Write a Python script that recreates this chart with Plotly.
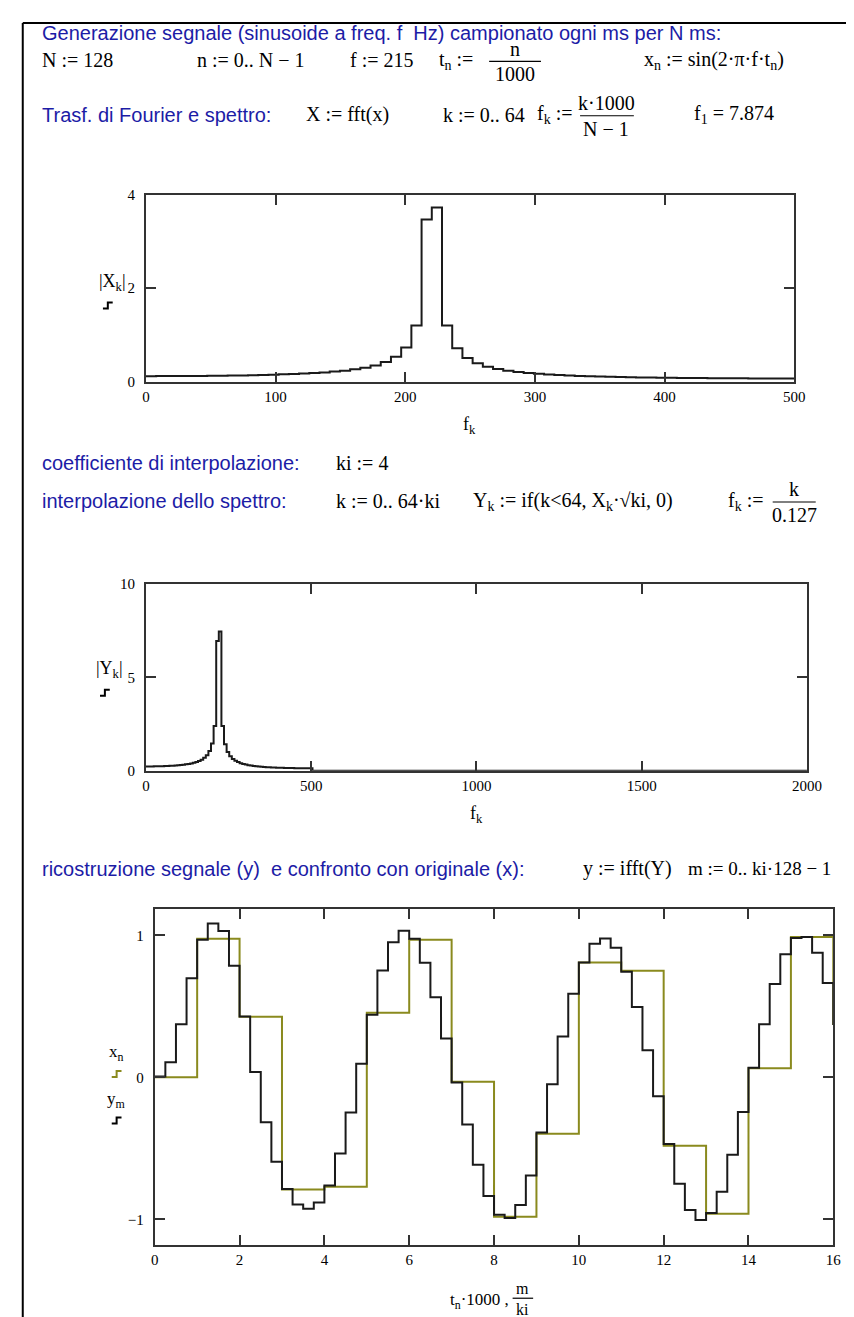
import plotly.graph_objects as go

W, H = 854, 1317

# ---------------- data ----------------
N = 128            # samples
ki = 4             # interpolation coefficient
k_idx = list(range(65))            # k = 0..64
# |X_k|  (spectrum of the sampled sinusoid)
X_mag = [0.115, 0.116, 0.116, 0.117, 0.118, 0.120, 0.122, 0.124, 0.127, 0.131,
         0.135, 0.140, 0.146, 0.153, 0.161, 0.170, 0.181, 0.195, 0.212, 0.233,
         0.261, 0.296, 0.345, 0.417, 0.529, 0.731, 1.199, 3.472, 3.729, 1.200,
         0.711, 0.504, 0.389, 0.317, 0.267, 0.231, 0.203, 0.181, 0.164, 0.150,
         0.138, 0.128, 0.119, 0.112, 0.106, 0.100, 0.095, 0.091, 0.087, 0.084,
         0.081, 0.079, 0.076, 0.074, 0.073, 0.071, 0.070, 0.069, 0.068, 0.067,
         0.066, 0.066, 0.066, 0.065, 0.065]
# |Y_k| (interpolated spectrum), k = 0..63 nonzero, k = 64..256 zero
Y_mag_low = [0.231, 0.231, 0.232, 0.234, 0.236, 0.240, 0.244, 0.249, 0.255, 0.262,
             0.270, 0.280, 0.291, 0.305, 0.321, 0.340, 0.363, 0.391, 0.424, 0.467,
             0.521, 0.592, 0.691, 0.833, 1.057, 1.461, 2.398, 6.944, 7.458, 2.400,
             1.422, 1.007, 0.778, 0.633, 0.534, 0.461, 0.406, 0.362, 0.328, 0.299,
             0.275, 0.256, 0.239, 0.224, 0.211, 0.200, 0.191, 0.182, 0.175, 0.168,
             0.162, 0.157, 0.153, 0.149, 0.145, 0.142, 0.140, 0.137, 0.135, 0.134,
             0.133, 0.132, 0.131, 0.131]
Y_mag_high = [0.0] * 193
Y_mag = Y_mag_low + Y_mag_high
kY_idx = list(range(len(Y_mag)))   # k = 0..256

# original samples x_n, n = 0..16
x_n = [0.000, 0.976, 0.426, -0.790, -0.771, 0.454, 0.969, -0.031, -0.982,
       -0.397, 0.809, 0.750, -0.482, -0.960, 0.063, 0.988, 0.368]
n_idx = list(range(len(x_n)))
# reconstructed y_m, m = 0..64
y_m = [0.005, 0.106, 0.373, 0.697, 0.968, 1.083, 1.030, 0.785, 0.428, 0.037,
       -0.317, -0.595, -0.787, -0.896, -0.926, -0.882, -0.762, -0.537, -0.248, 0.095,
       0.440, 0.752, 0.951, 1.032, 0.975, 0.806, 0.563, 0.273, -0.037, -0.333,
       -0.616, -0.836, -0.968, -0.991, -0.900, -0.692, -0.389, -0.049, 0.287, 0.588,
       0.808, 0.940, 0.977, 0.912, 0.743, 0.495, 0.190, -0.134, -0.470, -0.750,
       -0.935, -1.005, -0.956, -0.806, -0.546, -0.245, 0.067, 0.373, 0.657, 0.866,
       0.981, 0.988, 0.877, 0.664, 0.368]
m_idx = list(range(len(y_m)))

f1 = [k * 1000 / (N - 1) for k in k_idx]
f2 = [k / 0.127 for k in kY_idx]
t_n = [n for n in n_idx]
t_m = [m / ki for m in m_idx]

# ---------------- style ----------------
BLUE = "#1c1ca6"
OLIVE = "#8a8a1e"
INK = "#1a1a1a"
SERIF = "Liberation Serif"
SANS = "Liberation Sans"
TS = 20   # blue text size
MS = 20   # math size

def px(x):
    return x / W

def py(y):
    return 1 - y / H

fig = go.Figure()
fig.add_trace(go.Scatter(x=f1, y=X_mag, mode="lines", line=dict(shape="hv", color=INK, width=2),
                         xaxis="x", yaxis="y", showlegend=False))
fig.add_trace(go.Scatter(x=f2, y=Y_mag, mode="lines", line=dict(shape="hv", color=INK, width=2),
                         xaxis="x2", yaxis="y2", showlegend=False))
fig.add_trace(go.Scatter(x=t_n, y=x_n, mode="lines", line=dict(shape="hv", color=OLIVE, width=2),
                         xaxis="x3", yaxis="y3", showlegend=False))
fig.add_trace(go.Scatter(x=t_m, y=y_m, mode="lines", line=dict(shape="hv", color=INK, width=2),
                         xaxis="x3", yaxis="y3", showlegend=False))

ax = dict(showline=True, linewidth=2, linecolor="#333333", mirror="ticks", ticks="inside",
          ticklen=10, tickwidth=2, tickcolor="#333333", showgrid=False, zeroline=False,
          tickfont=dict(family=SERIF, size=15, color="black"), fixedrange=True)
ayx = dict(ax, ticklabelstandoff=6)

fig.update_layout(
    width=W, height=H, margin=dict(l=0, r=0, t=0, b=0),
    paper_bgcolor="white", plot_bgcolor="white",
    xaxis=dict(ax, domain=[px(137), px(800)], range=[0, 500], tickvals=[0, 100, 200, 300, 400, 500], anchor="y"),
    yaxis=dict(ayx, domain=[py(370), py(181)], range=[0, 4], tickvals=[0, 2, 4], anchor="x"),
    xaxis2=dict(ax, domain=[px(137), px(813)], range=[0, 2000], tickvals=[0, 500, 1000, 1500, 2000], anchor="y2"),
    yaxis2=dict(ayx, domain=[py(764), py(575)], range=[0, 10], tickvals=[0, 5, 10], anchor="x2"),
    xaxis3=dict(ax, domain=[px(146), px(840)], range=[0, 16], tickvals=list(range(0, 17, 2)), anchor="y3"),
    yaxis3=dict(ayx, domain=[py(1244), py(904)], range=[-1.18, 1.185], tickvals=[-1, 0, 1], anchor="x3"),
)

ann = []
def txt(x, y, s, size=MS, fam=SERIF, color="black", anchor="left"):
    ann.append(dict(x=px(x), y=py(y), xref="paper", yref="paper", text=s, showarrow=False,
                    xanchor=anchor, yanchor="middle", borderpad=0,
                    font=dict(family=fam, size=size, color=color)))

shapes = []
def hline(x0, x1, y, w=1.2, color="black"):
    shapes.append(dict(type="line", xref="paper", yref="paper", x0=px(x0), x1=px(x1), y0=py(y), y1=py(y),
                       line=dict(color=color, width=w)))

def glyph(x0, y0, color="black"):
    # small step-trace legend symbol
    path = "M {} {} L {} {} L {} {} L {} {}".format(px(x0), py(y0), px(x0 + 5), py(y0),
                                                    px(x0 + 5), py(y0 - 6), px(x0 + 10), py(y0 - 6))
    shapes.append(dict(type="path", xref="paper", yref="paper", path=path, line=dict(color=color, width=2)))

# page frame
shapes.append(dict(type="line", xref="paper", yref="paper", x0=px(11), x1=px(854), y0=py(7), y1=py(7),
                   line=dict(color="black", width=2)))
shapes.append(dict(type="line", xref="paper", yref="paper", x0=px(11), x1=px(11), y0=py(7), y1=py(1317),
                   line=dict(color="black", width=2)))

# line 1
txt(30, 17, "Generazione segnale (sinusoide a freq. f  Hz) campionato ogni ms per N ms:", TS, SANS, BLUE)
# line 2
txt(30, 45, "N := 128")
txt(188, 45, "n := 0.. N − 1")
txt(345, 45, "f := 215")
txt(436, 45, "t<sub>n</sub> :=")
txt(514, 33, "n", anchor="center")
hline(488, 541, 46)
txt(514, 59, "1000", anchor="center")
txt(645, 45, "x<sub>n</sub> := sin(2·π·f·t<sub>n</sub>)")
# line 3
txt(30, 100, "Trasf. di Fourier e spettro:", TS, SANS, BLUE)
txt(300, 100, "X := fft(x)")
txt(440, 100, "k := 0.. 64")
txt(536, 100, "f<sub>k</sub> :=")
txt(608, 88, "k·1000", anchor="center")
hline(581, 636, 101)
txt(608, 114, "N − 1", anchor="center")
txt(697, 100, "f<sub>1</sub> = 7.874")

# plot 1 labels
txt(103, 270, "|X<sub>k</sub>|", 18, anchor="center")
glyph(93, 296)
txt(468, 415, "f<sub>k</sub>", 18, anchor="center")

# interpolation text
txt(30, 452, "coefficiente di interpolazione:", TS, SANS, BLUE)
txt(330, 452, "ki := 4")
txt(30, 491, "interpolazione dello spettro:", TS, SANS, BLUE)
txt(330, 491, "k := 0.. 64·ki")
txt(470, 491, "Y<sub>k</sub> := if(k&lt;64, X<sub>k</sub>·√ki, 0)")
txt(731, 491, "f<sub>k</sub> :=")
txt(800, 479, "k", anchor="center")
hline(778, 822, 492)
txt(800, 505, "0.127", anchor="center")

# plot 2 labels
txt(100, 662, "|Y<sub>k</sub>|", 18, anchor="center")
glyph(90, 688)
txt(475, 808, "f<sub>k</sub>", 18, anchor="center")

# reconstruction text
txt(30, 863, "ricostruzione segnale (y)  e confronto con originale (x):", TS, SANS, BLUE)
txt(583, 863, "y := ifft(Y)")
txt(690, 863, "m := 0.. ki·128 − 1", 19)

# plot 3 labels
txt(107, 1050, "x<sub>n</sub>", 17, anchor="center")
glyph(102, 1074, OLIVE)
txt(107, 1097, "y<sub>m</sub>", 17, anchor="center")
glyph(102, 1121)
txt(478, 1301, "t<sub>n</sub>·1000 ,", 17, anchor="center")
txt(522, 1288, "m", 16, anchor="center")
hline(512, 533, 1298)
txt(522, 1309, "ki", 16, anchor="center")

fig.update_layout(annotations=ann, shapes=shapes)
fig.write_html("out.html")
